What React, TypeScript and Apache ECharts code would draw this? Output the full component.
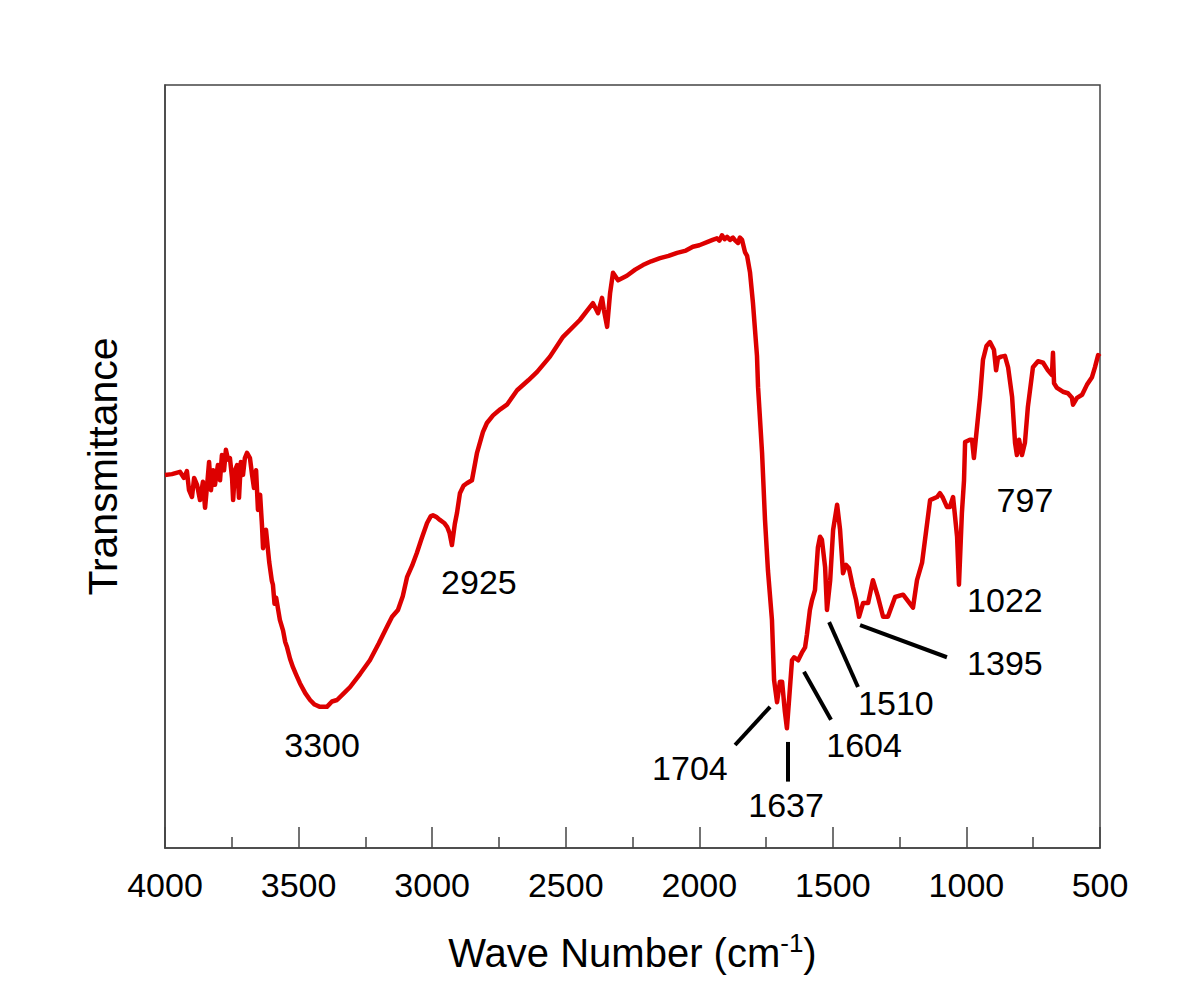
import React, { useEffect, useRef } from "react";
import * as echarts from "echarts";

// Wavenumber (cm-1) and transmittance (arbitrary 0-100 scale)
const waveNumbers = [
  4000, 3974, 3944, 3929, 3918, 3910, 3899, 3891, 3880, 3869, 3858, 3850, 3843, 3835, 3828, 3820, 3813, 3802, 3794, 3787,
  3779, 3772, 3764, 3757, 3749, 3745, 3738, 3730, 3723, 3716, 3708, 3701, 3693, 3682, 3674, 3667, 3659, 3652, 3644, 3637,
  3633, 3622, 3610, 3600, 3596, 3590, 3584, 3570, 3558, 3550, 3543, 3532, 3521, 3510, 3495, 3475, 3457, 3440, 3420, 3394,
  3375, 3356, 3330, 3307, 3270, 3233, 3200, 3169, 3150, 3128, 3110, 3094, 3075, 3057, 3040, 3019, 3005, 2997, 2985, 2971,
  2955, 2944, 2935, 2926, 2915, 2907, 2896, 2882, 2870, 2851, 2832, 2810, 2795, 2772, 2745, 2720, 2682, 2640, 2607, 2559,
  2510, 2447, 2398, 2385, 2379, 2364, 2357, 2345, 2334, 2323, 2304, 2271, 2240, 2211, 2180, 2147, 2115, 2083, 2050, 2024,
  2000, 1971, 1950, 1934, 1925, 1915, 1905, 1896, 1885, 1874, 1865, 1855, 1848, 1840, 1829, 1821, 1810, 1799, 1784, 1780,
  1765, 1754, 1743, 1728, 1720, 1709, 1698, 1690, 1680, 1672, 1664, 1653, 1645, 1630, 1616, 1604, 1597, 1586, 1578, 1567,
  1556, 1548, 1541, 1529, 1522, 1510, 1499, 1484, 1473, 1462, 1451, 1440, 1425, 1413, 1402, 1387, 1368, 1350, 1331, 1312,
  1294, 1267, 1237, 1200, 1185, 1166, 1136, 1110, 1099, 1088, 1073, 1062, 1050, 1035, 1028, 1017, 1009, 1005, 987, 979,
  972, 964, 949, 938, 925, 912, 897, 889, 882, 870, 856, 844, 829, 818, 811, 803, 792, 781, 770, 751,
  732, 713, 695, 680, 676, 672, 661, 639, 620, 605, 601, 586, 567, 549, 530, 519, 507, 500,
];
const transmittance = [
  48.9, 49.0, 49.3, 48.5, 49.4, 46.9, 46.0, 48.5, 47.6, 45.6, 48.0, 44.6, 47.3, 50.6, 46.9, 49.5, 47.6, 50.2, 48.2, 51.5,
  49.5, 52.2, 50.9, 51.1, 48.5, 45.6, 49.5, 50.2, 45.9, 50.6, 48.9, 51.1, 51.8, 51.1, 48.9, 47.2, 49.5, 44.3, 46.3, 42.3,
  39.3, 41.7, 37.5, 35.0, 34.5, 32.0, 32.8, 29.9, 28.5, 27.0, 26.3, 24.8, 23.7, 22.8, 21.6, 20.3, 19.4, 18.8, 18.5, 18.5,
  19.2, 19.4, 20.3, 21.1, 22.8, 24.6, 26.8, 29.0, 30.3, 31.2, 33.0, 35.5, 37.0, 38.7, 40.5, 42.6, 43.5, 43.6, 43.4, 43.0,
  42.6, 42.1, 41.3, 39.7, 42.5, 43.9, 46.5, 47.5, 47.8, 48.2, 51.8, 54.5, 55.7, 56.7, 57.5, 58.1, 60.0, 61.3, 62.4, 64.4,
  67.0, 69.2, 71.4, 70.5, 70.1, 72.1, 70.5, 68.3, 72.7, 75.4, 74.4, 75.0, 75.8, 76.4, 76.9, 77.3, 77.6, 78.0, 78.3, 78.8,
  79.0, 79.4, 79.7, 79.9, 79.6, 80.3, 79.8, 80.1, 79.7, 80.0, 79.6, 79.3, 80.0, 79.7, 78.1, 77.6, 75.4, 71.4, 64.5, 60.4,
  51.8, 43.0, 36.4, 29.9, 22.0, 19.1, 21.8, 21.8, 18.0, 15.7, 19.4, 24.6, 25.0, 24.6, 25.6, 26.3, 28.0, 31.2, 32.5, 33.8,
  39.4, 40.8, 40.4, 36.8, 31.2, 35.1, 41.7, 45.0, 41.7, 36.0, 37.1, 36.7, 34.2, 32.5, 30.3, 32.1, 32.1, 35.1, 32.9, 30.3,
  30.3, 32.9, 33.2, 31.5, 35.1, 37.4, 45.6, 46.0, 46.5, 45.9, 44.7, 44.7, 46.0, 40.8, 34.5, 43.9, 48.2, 53.2, 53.5, 53.5,
  51.1, 53.9, 59.1, 64.0, 65.8, 66.3, 65.3, 62.6, 64.2, 64.4, 64.5, 63.0, 59.1, 53.1, 51.5, 53.5, 51.5, 53.1, 57.8, 63.0,
  63.8, 63.6, 62.6, 62.0, 64.9, 60.9, 60.3, 59.8, 59.6, 59.0, 58.1, 59.0, 59.4, 60.7, 61.7, 63.0, 64.6, 64.4,
];

// Peak annotations: label text, label position [wavenumber, transmittance]
const peakLabels = ["3300", "2925", "1704", "1637", "1604", "1510", "1395", "1022", "797"];
const peakLabelPos: number[][] = [
  [3412, 13.5], [2825, 34.9], [2035, 10.5], [1675, 5.6], [1383, 13.5],
  [1264, 19.0], [856, 24.2], [856, 32.5], [781, 45.6],
];
// Leader lines: [w1, v1, w2, v2] (null = no line)
const leaderLines: (number[] | null)[] = [
  null, null, [1866, 13.5, 1735, 18.5], [1668, 13.9, 1668, 8.7], [1608, 23.1, 1507, 16.8],
  [1514, 29.6, 1406, 21.1], [1398, 29.2, 1073, 25.0], null, null,
];

const xTicksMin = 500;
const xTicksMax = 4000;

const FONT = "'Liberation Sans', Arial, Helvetica, sans-serif";

export default function App() {
  const ref = useRef<HTMLDivElement>(null);
  useEffect(() => {
    if (!ref.current) return;
    const chart = echarts.init(ref.current, null, { renderer: "svg" });
    const data = waveNumbers.map((w, i) => [w, transmittance[i]]);
    chart.setOption({
      animation: false,
      backgroundColor: "#ffffff",
      textStyle: { fontFamily: FONT },
      grid: {
        left: 165,
        top: 85,
        right: 100,
        bottom: 159,
        show: true,
        borderColor: "#444",
        borderWidth: 1.5,
      },
      xAxis: {
        type: "value",
        min: xTicksMin,
        max: xTicksMax,
        interval: 500,
        inverse: true,
        axisLine: { show: true, lineStyle: { color: "#444", width: 1.5 } },
        axisTick: { show: true, inside: true, length: 21, lineStyle: { color: "#444", width: 1.5 } },
        minorTick: { show: true, splitNumber: 2, length: 11, lineStyle: { color: "#444", width: 1.5 } },
        splitLine: { show: false },
        axisLabel: {
          color: "#000",
          fontSize: 34,
          margin: 20,
          fontFamily: FONT,
          formatter: (v: number) => String(v),
        },
        name: "{a|Wave Number (cm}{s|-1}{a|)}",
        nameLocation: "middle",
        nameGap: 82,
        nameTextStyle: {
          fontFamily: FONT,
          rich: {
            a: { fontSize: 40, color: "#000", fontFamily: FONT, lineHeight: 46 },
            s: { fontSize: 26, color: "#000", fontFamily: FONT, verticalAlign: "top", lineHeight: 46 },
          },
        },
      },
      yAxis: {
        type: "value",
        min: 0,
        max: 100,
        axisLine: { show: true, lineStyle: { color: "#444", width: 1.5 } },
        axisTick: { show: false },
        axisLabel: { show: false },
        splitLine: { show: false },
        name: "Transmittance",
        nameLocation: "middle",
        nameGap: 42,
        nameRotate: 90,
        nameTextStyle: { fontSize: 41, color: "#000", fontFamily: FONT },
      },
      series: [
        {
          type: "line",
          data,
          showSymbol: false,
          symbol: "none",
          lineStyle: { color: "#dd0000", width: 4.5, join: "round" },
          itemStyle: { color: "#dd0000" },
        },
      ],
    });

    const toPx = (w: number, v: number) => chart.convertToPixel({ gridIndex: 0 }, [w, v]) as number[];
    const graphics: any[] = [];
    peakLabels.forEach((t, i) => {
      const [px, py] = toPx(peakLabelPos[i][0], peakLabelPos[i][1]);
      graphics.push({
        type: "text",
        x: px,
        y: py,
        style: {
          text: t,
          fontSize: 34,
          fontFamily: FONT,
          fill: "#000",
          align: "center",
          verticalAlign: "middle",
        },
      });
      const l = leaderLines[i];
      if (l) {
        const [x1, y1] = toPx(l[0], l[1]);
        const [x2, y2] = toPx(l[2], l[3]);
        graphics.push({
          type: "line",
          shape: { x1, y1, x2, y2 },
          style: { stroke: "#000", lineWidth: 4 },
        });
      }
    });
    chart.setOption({ graphic: graphics });
    return () => chart.dispose();
  }, []);
  return (
    <div
      ref={ref}
      style={{ position: "absolute", left: 0, top: 0, width: 1200, height: 1007, background: "#fff" }}
    />
  );
}
